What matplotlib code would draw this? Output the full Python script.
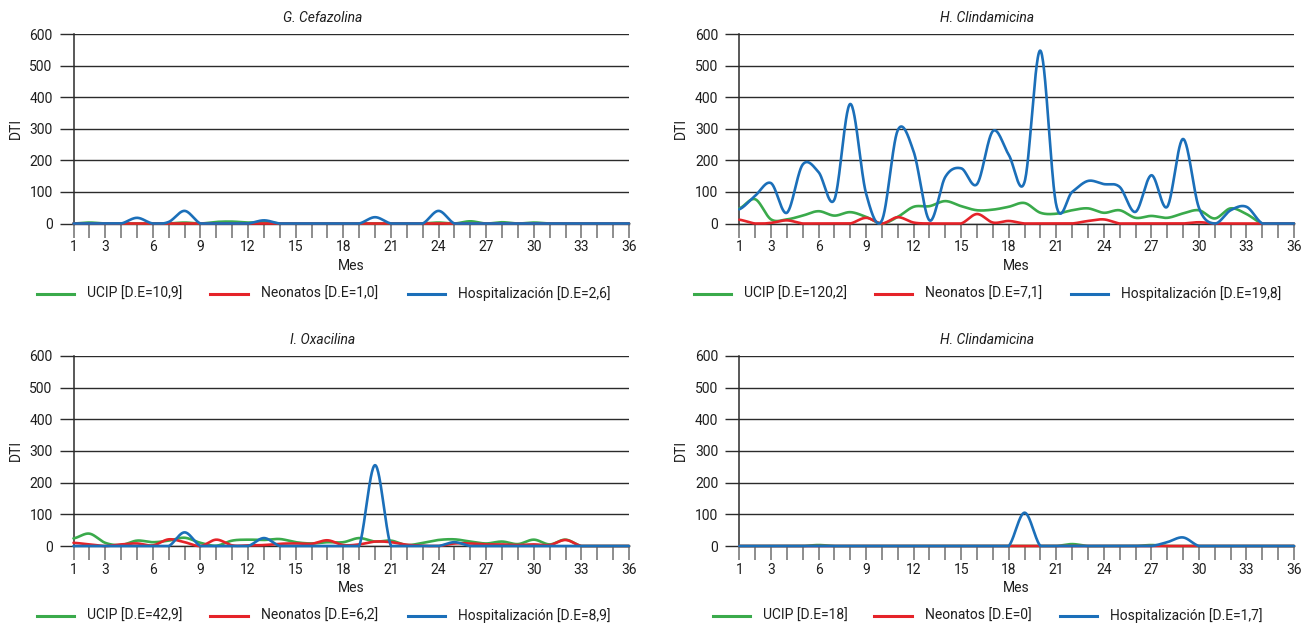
import numpy as np
import matplotlib
matplotlib.use("Agg")
import matplotlib.pyplot as plt
from matplotlib.lines import Line2D

plt.rcParams['font.family'] = ['Roboto', 'DejaVu Sans']

# ---- data -------------------------------------------------------------
months = list(range(1, 37))
labelled_months = [1, 3, 6, 9, 12, 15, 18, 21, 24, 27, 30, 33, 36]
y_ticks = [0, 100, 200, 300, 400, 500, 600]

series_names = ["UCIP", "Neonatos", "Hospitalización"]

# G. Cefazolina
cef_ucip = [0, 3, 0, 0, 0, 0, 0, 3, 0, 5, 6, 3, 5, 0, 0, 0, 0, 0,
            0, 0, 0, 0, 0, 3, 0, 7, 0, 4, 0, 3, 0, 0, 0, 0, 0, 0]
cef_neo = [0] * 36
cef_hosp = [0, 0, 0, 0, 18, 0, 5, 40, 0, 0, 0, 0, 10, 0, 0, 0, 0, 0,
            0, 20, 0, 0, 0, 40, 0, 0, 0, 0, 0, 0, 0, 0, 0, 0, 0, 0]
cef_de = ["10,9", "1,0", "2,6"]

# H. Clindamicina (upper)
cli_ucip = [48, 77, 13, 13, 25, 39, 25, 36, 21, 0, 21, 53, 55, 71, 55, 42, 44, 53,
            65, 34, 31, 42, 48, 34, 42, 18, 24, 18, 32, 42, 16, 48, 30, 0, 0, 0]
cli_neo = [12, 0, 2, 10, 0, 0, 0, 0, 18, 0, 20, 3, 0, 0, 0, 30, 3, 8,
           0, 0, 0, 0, 8, 13, 0, 0, 0, 0, 0, 4, 0, 0, 0, 0, 0, 0]
cli_hosp = [45, 88, 128, 34, 187, 163, 76, 379, 95, 10, 296, 228, 10, 148, 175, 125, 293, 218,
            132, 548, 58, 100, 135, 125, 116, 37, 153, 53, 268, 50, 0, 42, 53, 0, 0, 0]
cli_de = ["120,2", "7,1", "19,8"]

# I. Oxacilina
oxa_ucip = [24, 39, 10, 3, 17, 12, 17, 26, 10, 1, 17, 20, 19, 22, 12, 8, 12, 12,
            25, 14, 17, 3, 10, 19, 21, 14, 8, 14, 6, 20, 5, 20, 0, 0, 0, 0]
oxa_neo = [10, 5, 0, 5, 8, 2, 21, 12, 0, 20, 2, 2, 3, 7, 8, 7, 18, 3,
           5, 14, 12, 4, 1, 0, 8, 8, 5, 5, 3, 5, 3, 19, 0, 0, 0, 0]
oxa_hosp = [0, 0, 0, 0, 0, 0, 0, 43, 0, 0, 0, 0, 25, 0, 0, 0, 0, 0,
            0, 255, 0, 0, 0, 0, 12, 0, 0, 0, 0, 0, 0, 0, 0, 0, 0, 0]
oxa_de = ["42,9", "6,2", "8,9"]

# H. Clindamicina (lower)
cli2_ucip = [0, 0, 0, 0, 0, 3, 0, 0, 0, 0, 0, 0, 0, 0, 0, 0, 0, 0,
             0, 0, 0, 6, 0, 0, 0, 0, 3, 0, 0, 0, 0, 0, 0, 0, 0, 0]
cli2_neo = [0] * 36
cli2_hosp = [0, 0, 0, 0, 0, 0, 0, 0, 0, 0, 0, 0, 0, 0, 0, 0, 0, 0,
             105, 0, 0, 0, 0, 0, 0, 0, 0, 12, 27, 0, 0, 0, 0, 0, 0, 0]
cli2_de = ["18", "0", "1,7"]

colors = ["#3aaa4b", "#e52329", "#1b6fb9"]

W, H = 1304, 630


def smooth(x, y, n=30):
    """Catmull-Rom curve through every point (spreadsheet-style smoothed line)."""
    x = np.asarray(x, float)
    y = np.asarray(y, float)
    yp = np.concatenate([[y[0]], y, [y[-1]]])
    xs, ys = [], []
    for i in range(len(y) - 1):
        p0, p1, p2, p3 = yp[i], yp[i + 1], yp[i + 2], yp[i + 3]
        m1 = (p2 - p0) / 2.0
        m2 = (p3 - p1) / 2.0
        t = np.linspace(0, 1, n, endpoint=False)
        h00 = 2 * t**3 - 3 * t**2 + 1
        h10 = t**3 - 2 * t**2 + t
        h01 = -2 * t**3 + 3 * t**2
        h11 = t**3 - t**2
        xs.append(x[i] + t * (x[i + 1] - x[i]))
        ys.append(h00 * p1 + h10 * m1 + h01 * p2 + h11 * m2)
    xs.append([x[-1]])
    ys.append([y[-1]])
    xs = np.concatenate(xs)
    ys = np.maximum(np.concatenate(ys), 0)
    return xs, ys


fig = plt.figure(figsize=(W / 100, H / 100), dpi=100)

panels = [
    dict(title="G. Cefazolina", data=[cef_ucip, cef_neo, cef_hosp], de=cef_de,
         box=(73.5, 629, 34.3, 223.5), title_x=323, title_y=18, dti_x=16,
         mes_y=266, leg_y=294,
         leg=[(37, 74, 87), (210, 248, 261), (408, 445, 458)]),
    dict(title="H. Clindamicina", data=[cli_ucip, cli_neo, cli_hosp], de=cli_de,
         box=(739.3, 1294, 34.3, 223.5), title_x=987, title_y=18, dti_x=681,
         mes_y=266, leg_y=294,
         leg=[(694, 731, 744), (875, 912, 925), (1071, 1108, 1121)]),
    dict(title="I. Oxacilina", data=[oxa_ucip, oxa_neo, oxa_hosp], de=oxa_de,
         box=(73.5, 629, 355.8, 546), title_x=323, title_y=340, dti_x=16,
         mes_y=588, leg_y=616,
         leg=[(37, 74, 87), (210, 248, 261), (408, 445, 458)]),
    dict(title="H. Clindamicina", data=[cli2_ucip, cli2_neo, cli2_hosp], de=cli2_de,
         box=(739.3, 1294, 355.8, 546), title_x=987, title_y=340, dti_x=681,
         mes_y=588, leg_y=616,
         leg=[(713, 750, 763), (874, 912, 925), (1060, 1097, 1110)]),
]

txt = "#1e1e1e"
grid_c = "#2b2b2b"
fs = 10

for p in panels:
    x0, x1, ytop, ybot = p["box"]
    ax = fig.add_axes([x0 / W, 1 - ybot / H, (x1 - x0) / W, (ybot - ytop) / H])
    ax.set_xlim(1, 36)
    ax.set_ylim(0, 600)
    for s in ("top", "right"):
        ax.spines[s].set_visible(False)
    ax.spines["left"].set_color(grid_c)
    ax.spines["left"].set_linewidth(1.1)
    ax.spines["bottom"].set_color(grid_c)
    ax.spines["bottom"].set_linewidth(1.0)

    ax.set_yticks(y_ticks)
    ax.yaxis.grid(True, color=grid_c, linewidth=1.0)
    ax.set_axisbelow(True)
    ax.tick_params(axis="y", length=10, width=1.0, color=grid_c, pad=5,
                   labelsize=fs, labelcolor=txt)

    ax.set_xticks(months)
    ax.set_xticklabels([str(m) if m in labelled_months else "" for m in months])
    ax.tick_params(axis="x", length=10, width=1.2, color="#7a7a7a", pad=2,
                   labelsize=fs, labelcolor=txt)

    for vals, c in zip(p["data"], colors):
        xs, ys = smooth(months, vals)
        ax.plot(xs, ys, color=c, linewidth=1.9, clip_on=False,
                solid_capstyle="round", zorder=3)

    fig.text(p["title_x"] / W, 1 - p["title_y"] / H, p["title"], ha="center",
             va="center", fontsize=fs, style="italic", color=txt)
    fig.text(p["dti_x"] / W, 1 - ((ytop + ybot) / 2) / H, "DTI", rotation=90,
             ha="center", va="center", fontsize=fs, color=txt)
    fig.text(((x0 + x1) / 2) / W, 1 - p["mes_y"] / H, "Mes", ha="center",
             va="center", fontsize=fs, color=txt)

    for (lx0, lx1, tx), name, de, c in zip(p["leg"], series_names, p["de"], colors):
        yy = 1 - p["leg_y"] / H
        fig.add_artist(Line2D([lx0 / W, lx1 / W], [yy, yy], transform=fig.transFigure,
                              color=c, linewidth=2.2))
        fig.text(tx / W, yy, f"{name} [D.E={de}]", ha="left", va="center",
                 fontsize=fs, color=txt)

fig.savefig("out.png", dpi=100)
